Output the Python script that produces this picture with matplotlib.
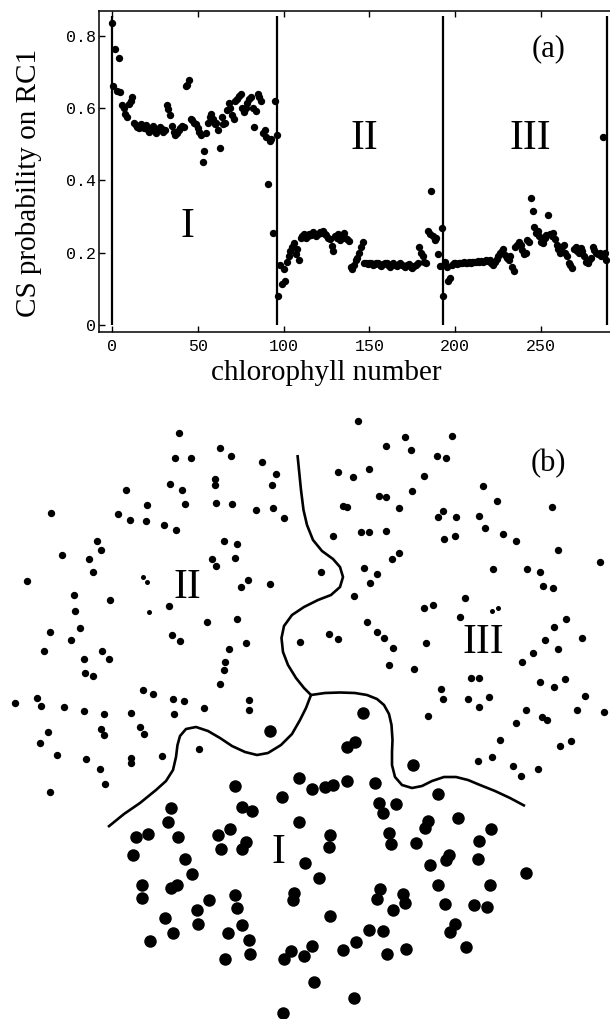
import numpy as np
import matplotlib
matplotlib.use("Agg")
import matplotlib.pyplot as plt

# ---- panel (a): CS probability per chlorophyll ----
region1 = [0.835, 0.662, 0.765, 0.648, 0.74, 0.645, 0.61, 0.60, 0.585, 0.575,
           0.612, 0.62, 0.63, 0.56, 0.553, 0.548, 0.545, 0.555, 0.55, 0.545,
           0.553, 0.54, 0.535, 0.545, 0.55, 0.538, 0.532, 0.54, 0.548, 0.543,
           0.533, 0.54, 0.61, 0.598, 0.58, 0.55, 0.535, 0.525, 0.53, 0.54,
           0.545, 0.55, 0.548, 0.66, 0.665, 0.678, 0.57, 0.568, 0.56, 0.555,
           0.545, 0.535, 0.525, 0.45, 0.48, 0.53, 0.56, 0.575, 0.585, 0.57,
           0.555, 0.56, 0.54, 0.49, 0.575, 0.555, 0.56, 0.595, 0.615, 0.60,
           0.58, 0.57, 0.62, 0.625, 0.635, 0.64, 0.60, 0.59, 0.60, 0.615,
           0.625, 0.63, 0.60, 0.548, 0.592, 0.64, 0.632, 0.62, 0.53, 0.54,
           0.52, 0.39, 0.51, 0.515, 0.255, 0.62, 0.525]
region2 = [0.08, 0.165, 0.112, 0.155, 0.12, 0.175, 0.19, 0.205, 0.215, 0.225,
           0.195, 0.21, 0.18, 0.24, 0.245, 0.25, 0.24, 0.245, 0.25, 0.248,
           0.256, 0.25, 0.245, 0.252, 0.258, 0.255, 0.26, 0.25, 0.248, 0.24,
           0.238, 0.218, 0.205, 0.245, 0.24, 0.25, 0.235, 0.245, 0.255, 0.24,
           0.238, 0.232, 0.16, 0.155, 0.165, 0.18, 0.185, 0.20, 0.215, 0.228,
           0.172, 0.17, 0.168, 0.17, 0.172, 0.165, 0.168, 0.17, 0.172, 0.165,
           0.163, 0.168, 0.17, 0.172, 0.165, 0.16, 0.168, 0.17, 0.165, 0.163,
           0.168, 0.17, 0.165, 0.162, 0.16, 0.165, 0.168, 0.16, 0.158, 0.162,
           0.165, 0.17, 0.215, 0.20, 0.19, 0.175, 0.17, 0.26, 0.25, 0.37,
           0.245, 0.235, 0.24, 0.195, 0.162, 0.268]
region3 = [0.079, 0.175, 0.16, 0.12, 0.13, 0.165, 0.17, 0.172, 0.168, 0.17,
           0.172, 0.17, 0.173, 0.172, 0.17, 0.174, 0.172, 0.173, 0.175, 0.174,
           0.176, 0.175, 0.176, 0.174, 0.176, 0.178, 0.177, 0.18, 0.172, 0.165,
           0.175, 0.182, 0.19, 0.198, 0.205, 0.21, 0.192, 0.185, 0.18, 0.19,
           0.16, 0.15, 0.215, 0.222, 0.23, 0.22, 0.208, 0.195, 0.20, 0.235,
           0.228, 0.35, 0.315, 0.27, 0.255, 0.26, 0.245, 0.23, 0.225, 0.24,
           0.248, 0.305, 0.25, 0.245, 0.255, 0.238, 0.22, 0.21, 0.198, 0.215,
           0.22, 0.20, 0.19, 0.172, 0.165, 0.158, 0.21, 0.215, 0.205, 0.20,
           0.212, 0.205, 0.19, 0.175, 0.17, 0.18, 0.185, 0.215, 0.208, 0.20,
           0.195, 0.2, 0.19, 0.52, 0.2, 0.18]
boundaries = [0, 96.2, 192.6, 288.5]
xticks = [0, 50, 100, 150, 200, 250]
yticks = [0, 0.2, 0.4, 0.6, 0.8]
ytick_labels = ["0", "0.2", "0.4", "0.6", "0.8"]

# ---- panel (b): chlorophyll positions (picture coordinates, y downward) ----
small_x = [179, 175, 190.7, 220, 231, 261.7, 276, 272, 126.3, 169.7, 182, 215, 215, 51, 147,
           185, 216.3, 232.3, 255.7, 273.3, 284, 117.7, 130.3, 146.3, 163.7, 176.3, 96.7,
           100.7, 61.7, 89, 93.3, 224, 237, 212.3, 216.3, 235.3, 27, 241.3, 248.3, 270.3, 74, 110,
           357.7, 405.3, 452.3, 386, 410.7, 436.7, 445.7, 337.7, 353, 369.3, 424.3, 412, 379.3,
           386, 343.3, 346.7, 399, 443.3, 437.7, 456.3, 483.3, 497.3, 479, 552.3, 485.3, 502.7,
           516.3, 361, 369, 386.3, 333.3, 444.3, 455, 557.7, 600, 399.3, 392, 320.7, 363.7, 377,
           369.7, 493, 527.3, 540, 542.7, 553, 354.3, 465,
           75.3, 168.7, 49.7, 79.7, 71.3, 43.7, 101.7, 109, 84.3, 85, 92.7, 171.7, 179.7, 207.3,
           237.3, 246, 229.3, 225, 223.7, 219.7, 142.7, 152.7, 15.3, 37.3, 41, 64, 83.7, 104.3,
           131, 172.7, 184.3, 174, 203.7, 248.7, 249, 300.3, 48.3, 40.3, 101.3, 104.3, 139.7,
           144, 57.3, 85.7, 130.7, 131, 100.3, 162.3, 199.3, 104.7, 49.7,
           424, 432.7, 460, 367, 377.3, 384, 329.3, 338.3, 392.7, 426.3, 389, 414, 565.7, 554,
           544.7, 582, 557.7, 533, 522, 471, 479, 441, 442.7, 468, 479.3, 488.7, 539.7, 554,
           565.3, 585, 604.3, 577.3, 525.7, 516.3, 542.3, 547.3, 428, 499.7, 478.3, 492.3,
           512.7, 521, 538, 559.7, 571.3]
small_y = [433.3, 458, 458, 448.3, 455.7, 462, 473.7, 485.3, 490, 484, 490, 479.3, 485, 512.7, 505.3,
           504.3, 503.3, 504.3, 510, 508, 518, 513.7, 519.7, 521, 525, 530, 540.7,
           550.3, 554.7, 559.3, 571.7, 541.3, 544.3, 559, 566, 558, 581.3, 586.7, 580.3, 584, 595.3, 600,
           420.7, 437.3, 436, 446.3, 450, 456, 457.7, 472.3, 477, 468.7, 476.3, 490.7, 496.3,
           497, 505.7, 507.3, 507.7, 511, 516.7, 517.3, 486.3, 501, 516, 506.7, 528.3, 533.7,
           540.7, 531.7, 531.7, 531, 536, 539, 536.3, 550, 561.7, 552.7, 559.3, 572, 568, 573.7,
           583, 568.7, 569, 571.7, 586, 587.7, 596, 597.7,
           611, 606, 631.7, 628.3, 640.3, 651, 650.7, 658.7, 659, 673, 675.7, 635.3, 641.3, 622.3,
           619.3, 643, 649, 662, 669.7, 684, 689.7, 694, 703, 698, 706.3, 707.3, 710.7, 713.7,
           713, 699.3, 701, 714, 707.7, 700, 710.3, 642.3, 732.3, 743, 729, 735.3, 727.3,
           734.3, 755.3, 758.7, 758, 762.7, 769, 755.7, 749.3, 784, 792.3,
           608.3, 605, 616.7, 622.3, 632.3, 637.7, 634, 639.3, 648.3, 642.7, 665.3, 669.3, 619, 627.3,
           640.3, 638.3, 649, 653.3, 661.7, 678.3, 678.3, 689.3, 699.3, 698.7, 706.7, 697.3, 681.7, 686.7,
           679, 696, 711.7, 709.7, 709.7, 722.7, 717.3, 720, 716, 740, 760.7, 756.7,
           766, 776, 769.3, 746, 740.7]
tiny_x = [142.7, 147, 149.3, 491.7, 498.3]
tiny_y = [577.3, 581.7, 611.7, 610.7, 608.3]
big_x = [270, 235.3, 242.3, 252, 171, 282.3, 298.7, 311.7, 325, 332.7, 346.7, 375, 437.7, 362.7,
         346.7, 355, 413.3, 379, 395.7, 383.3, 428.3, 425, 458, 167.7, 299, 135.7, 148.3, 178,
         133.3, 217.7, 230, 220.7, 246, 241.7, 185, 191.7, 142.3, 142.3, 171, 177.3, 165, 173.3,
         150, 197.3, 209, 197.7, 234.7, 236.7, 242.3, 228.3, 249.3, 225.3, 250, 330.3, 329,
         304.7, 319, 294.3, 292.7, 329.7, 290.7, 284, 312.3, 304, 314, 282.7, 354.3, 342.7,
         355.7, 368.7, 383, 386.7, 406, 380, 377.3, 403.3, 405, 392.7, 388.7, 390.7, 416, 491,
         479.3, 478.3, 448.7, 445.7, 430, 438.3, 490, 445, 474, 487.3, 455.3, 450, 465.7, 525.7]
big_y = [731, 786.3, 807.3, 810.7, 808.3, 797, 778, 789.3, 786.7, 785, 781, 783, 794.3, 713.3,
         746.7, 741.7, 765, 802.7, 804.5, 813, 821, 827.7, 818, 821.7, 821.7, 836.7, 834.3, 836.7,
         855, 835, 829.3, 849, 841.7, 849, 859.3, 874, 885, 897.7, 887.7, 885, 918.3, 932.7,
         941.3, 910, 900, 924, 895.3, 908.3, 925.3, 932.7, 939.7, 958.7, 954, 835, 846.7,
         863.3, 878.3, 893.3, 900, 916.3, 950.7, 959.3, 945.7, 955.7, 981.7, 1012.7, 998.3, 950.3,
         942.3, 930, 930.7, 954, 949.3, 889, 899, 894, 902.7, 910, 833.3, 844.3, 842.7, 829.3,
         841.3, 859.3, 855, 860, 865.3, 885, 885, 904, 905, 906.7, 924, 931.7, 947.3, 873.3]

# boundary curves between the three domains
upper_x = [297.5, 299, 301, 303.5, 307, 313, 322, 333, 340, 343, 340, 331, 318, 304, 292, 284,
           281.5, 283, 288, 296, 304, 311]
upper_y = [455, 470, 490, 510, 525, 540, 551, 559, 567, 577, 587, 595, 600, 607, 615, 626,
           638, 652, 665, 678, 688, 695]
left_x = [311, 306, 300, 292, 281, 268, 257, 245, 232, 220, 208, 196, 186, 180, 177.5, 176, 173,
          166, 156, 140, 124, 108]
left_y = [695, 708, 720, 734, 745, 753, 755, 752, 746, 738, 731, 727, 729, 736, 745, 757, 770,
          781, 790, 803, 814, 827]
right_x = [311, 325, 340, 355, 367, 377, 384, 389, 391.5, 392.5, 392, 392, 395, 402, 412, 422,
           432, 444, 456, 468, 480, 495, 510, 525]
right_y = [695, 693, 692.5, 693, 695, 699, 705, 714, 725, 740, 752, 765, 777, 785, 788, 786,
           781, 777, 777, 780, 785, 791, 798, 806]

serif = "Liberation Serif"
mono = "Liberation Mono"

W, H = 610, 1019
fig = plt.figure(figsize=(W / 100, H / 100), dpi=100)

# panel (a)
ax = fig.add_axes([99 / W, 1 - 332 / H, (620 - 99) / W, (332 - 10.7) / H])
prob = region1 + region2 + region3
idx = np.arange(len(prob))
ax.plot(idx, prob, "o", color="black", ms=5.3, mec="none")
ax.vlines(boundaries, 0, 0.855, color="black", lw=1.6)
ax.set_xlim((99 - 111.7) / 1.718, (620 - 111.7) / 1.718)
ax.set_ylim(-0.0202, 0.870)
ax.set_xticks(xticks)
ax.set_xticklabels([str(t) for t in xticks], fontfamily=mono, fontsize=12)
ax.set_yticks(yticks)
ax.set_yticklabels(ytick_labels, fontfamily=mono, fontsize=12)
ax.tick_params(axis="x", direction="in", length=4, width=1, top=True, pad=5)
ax.tick_params(axis="y", direction="in", length=4, width=1, pad=2)
for s in ["left", "bottom", "top"]:
    ax.spines[s].set_linewidth(1.1)
ax.spines["right"].set_visible(False)

ax.text(44.3, 0.271, "I", fontfamily=serif, fontsize=30, ha="center", va="center")
ax.text(146.9, 0.514, "II", fontfamily=serif, fontsize=30, ha="center", va="center")
ax.text(243.4, 0.514, "III", fontfamily=serif, fontsize=30, ha="center", va="center")
ax.text(254.2, 0.764, "(a)", fontfamily=serif, fontsize=22, ha="center", va="center")

fig.text(29 / W, 1 - 182.5 / H, "CS probability on RC1", fontfamily=serif, fontsize=21,
         rotation=90, ha="center", va="center")
fig.text(326.5 / W, 1 - 373 / H, "chlorophyll number", fontfamily=serif, fontsize=21,
         ha="center", va="center")

# panel (b)
bx = fig.add_axes([0, 0, 1, (H - 380) / H])
bx.set_xlim(0, W)
bx.set_ylim(H, 380)
bx.axis("off")
for cx, cy in [(upper_x, upper_y), (left_x, left_y), (right_x, right_y)]:
    bx.plot(cx, cy, color="black", lw=1.9, solid_capstyle="butt")
bx.plot(small_x, small_y, "o", color="black", ms=5.3, mec="none")
bx.plot(tiny_x, tiny_y, "o", color="black", ms=3.6, mec="none")
bx.plot(big_x, big_y, "o", color="black", ms=9.0, mec="none")
bx.text(278.3, 852.7, "I", fontfamily=serif, fontsize=30, ha="center", va="center")
bx.text(187, 588, "II", fontfamily=serif, fontsize=30, ha="center", va="center")
bx.text(483.3, 642.7, "III", fontfamily=serif, fontsize=30, ha="center", va="center")
bx.text(548.3, 463.3, "(b)", fontfamily=serif, fontsize=22, ha="center", va="center")

fig.savefig("out.png", dpi=100)
